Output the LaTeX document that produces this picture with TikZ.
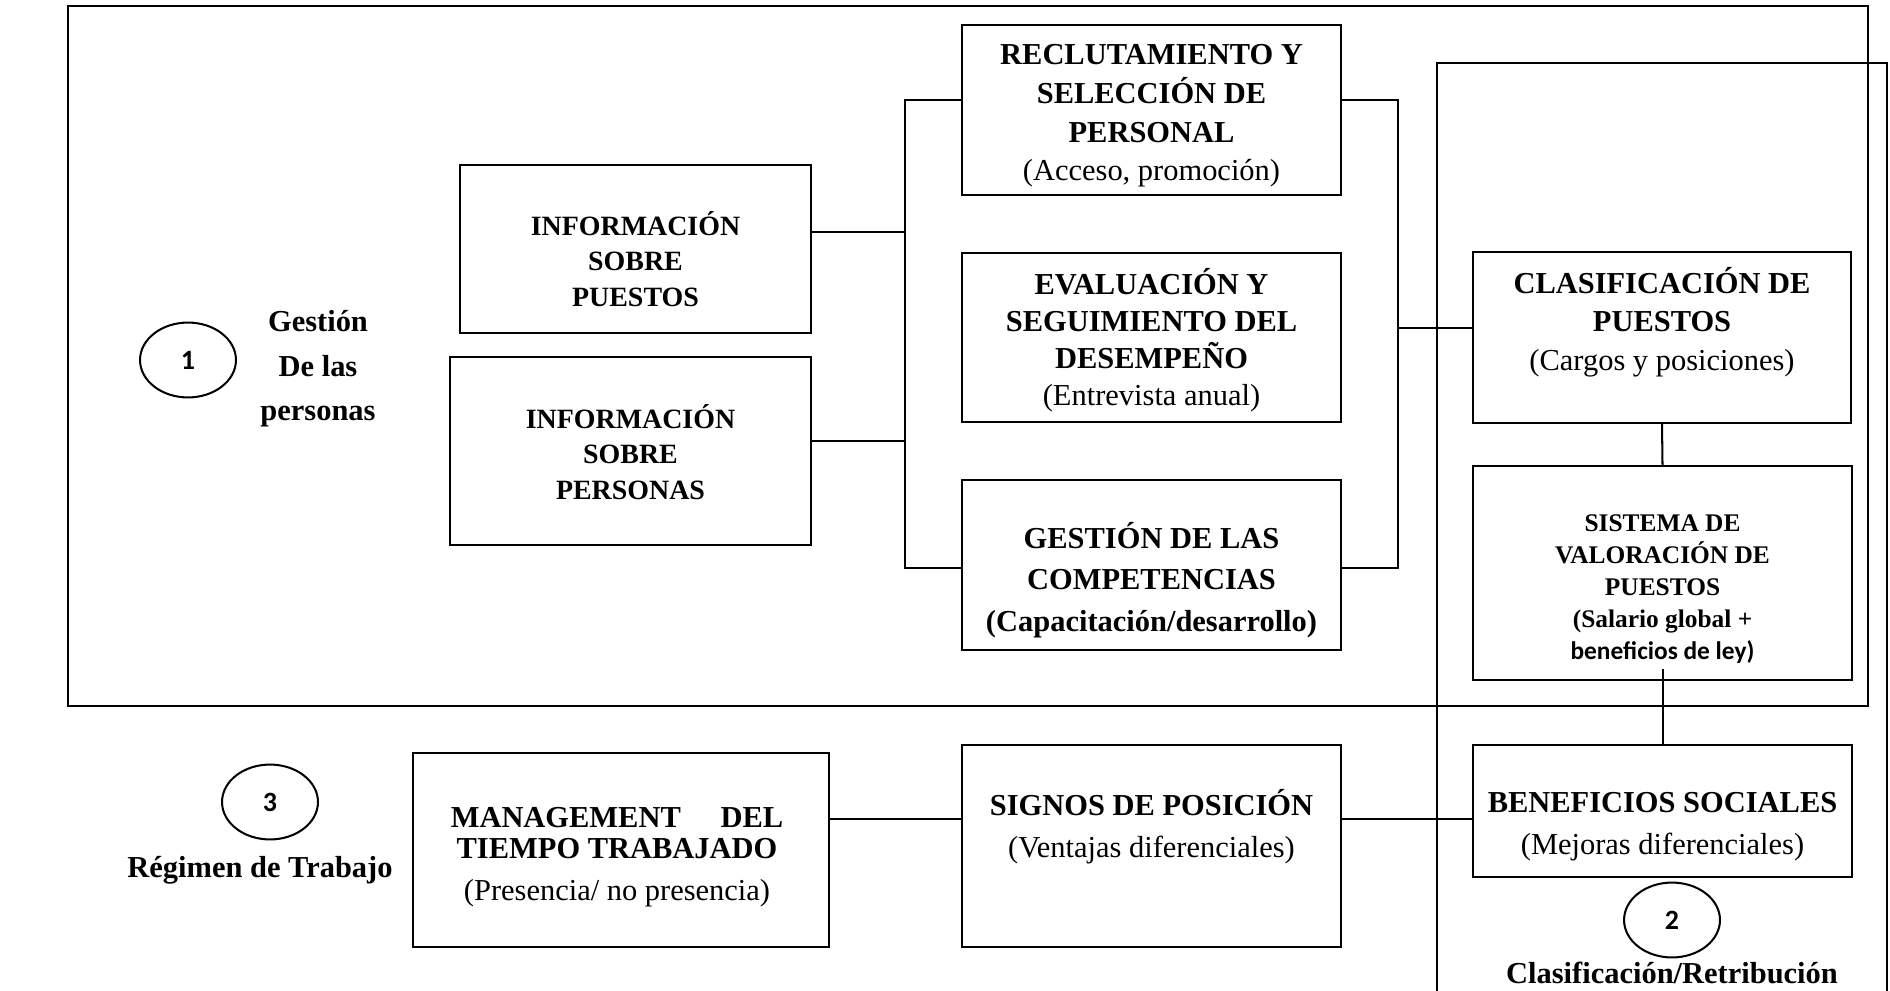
\documentclass[tikz,border=0pt]{standalone}
\usepackage{fontspec}
\setmainfont{Liberation Serif}
\newfontfamily\calibri{Carlito}
\usetikzlibrary{shapes.geometric}
\tikzset{ caja/.style 2 args = { rectangle % recuadro
        , draw
        , line width = .8pt
        , inner sep = 0pt
        , minimum width = #1*0.394pt
        , minimum height = #2*0.394pt
        }
        , txt/.style = { align = center % texto
        , inner sep = 0pt
        , font = \fontsize{12}{13.6}\selectfont\bfseries
        }
        , num/.style = { ellipse % circulo numerado
        , draw
        , line width = .8pt
        , minimum width = 37.8pt
        , minimum height = 29.5pt
        , font = \calibri\fontsize{11}{13}\selectfont\bfseries
        }
        }

\begin{document}
\begin{tikzpicture}[x=0.394pt, y=-0.394pt, line width=.8pt]
        \useasboundingbox (0,0) rectangle (1890,991);
        % marcos
        \draw [line width=1pt] (68,6) rectangle (1868,706);
        \draw (1437,991) -- (1437,63) -- (1887,63) -- (1887,991);

        \node [num] (n1) at (188,360) {1};
        \node [txt, font=\fontsize{12}{17.5}\selectfont\bfseries] (gestion) at (318,369) {Gestión\\De las\\personas};
        \node [num] (n3) at (270,802) {3};
        \node [txt] (regimen) at (260,870) {Régimen de Trabajo};
        \node [num] (n2) at (1672,920) {2};
        \node [txt] (clasret) at (1672,973) {Clasificación/Retribución};

        \node [caja={351}{168}] (infoP) at (635.5,249) {};
        \node [txt, font=\fontsize{11}{14}\selectfont\bfseries] (infoP-t) at (635.5,259) {INFORMACIÓN\\SOBRE\\PUESTOS};
        \node [caja={361}{188}] (infoE) at (630.5,451) {};
        \node [txt, font=\fontsize{11}{14}\selectfont\bfseries] (infoE-t) at (630.5,452) {INFORMACIÓN\\SOBRE\\PERSONAS};

        \node [caja={379}{170}] (reclut) at (1151.5,110) {};
        \node [txt, font=\fontsize{12}{15.2}\selectfont\bfseries] (reclut-t) at (1151.5,116) {RECLUTAMIENTO Y\\SELECCIÓN DE\\PERSONAL\\{\mdseries (Acceso, promoción)}};
        \node [caja={379}{169}] (evalua) at (1151.5,337.5) {};
        \node [txt, font=\fontsize{12}{14.6}\selectfont\bfseries] (evalua-t) at (1151.5,340) {EVALUACIÓN Y\\SEGUIMIENTO DEL\\DESEMPEÑO\\{\mdseries (Entrevista anual)}};
        \node [caja={379}{170}] (compet) at (1151.5,565) {};
        \node [txt, font=\fontsize{12}{16.3}\selectfont\bfseries] (compet-t) at (1151.5,580) {GESTIÓN DE LAS\\COMPETENCIAS\\(Capacitación/desarrollo)};

        \node [caja={378}{171}] (clasif) at (1662,337.5) {};
        \node [txt, font=\fontsize{12}{15.2}\selectfont\bfseries] (clasif-t) at (1662,322) {CLASIFICACIÓN DE\\PUESTOS\\{\mdseries (Cargos y posiciones)}};
        \node [caja={379}{214}] (sistema) at (1662.5,573) {};
        \node [txt, font=\fontsize{10}{12.6}\selectfont\bfseries] (sistema-t) at (1662.5,589) {SISTEMA DE\\VALORACIÓN DE\\PUESTOS\\{\rmfamily (Salario global +}\\{\calibri beneficios de ley)}};
        \node [caja={379}{132}] (benef) at (1662.5,811) {};
        \node [txt, font=\fontsize{12}{16.6}\selectfont\bfseries] (benef-t) at (1662.5,827) {BENEFICIOS SOCIALES\\{\mdseries (Mejoras diferenciales)}};

        \node [caja={416}{194}] (manage) at (621,850) {};
        \node [txt, font=\fontsize{12}{12.4}\selectfont\bfseries] (manage-t) at (617,857) {\makebox[131pt]{MANAGEMENT\hfill DEL}\\TIEMPO TRABAJADO\\[4pt]{\mdseries (Presencia/ no presencia)}};
        \node [caja={379}{202}] (signos) at (1151.5,846) {};
        \node [txt, font=\fontsize{12}{16.6}\selectfont\bfseries] (signos-t) at (1151.5,827) {SIGNOS DE POSICIÓN\\{\mdseries (Ventajas diferenciales)}};

        % puntos de las llaves
        \coordinate (izqA) at (905,100);
        \coordinate (izqB) at (905,568);
        \coordinate (izqP) at (905,232);
        \coordinate (izqE) at (905,441);
        \coordinate (derA) at (1398,100);
        \coordinate (derB) at (1398,568);
        \coordinate (derC) at (1398,328);
        \coordinate (fila) at (1000,819);

        \draw (reclut.west |- izqA) -- (izqA) -- (izqB) -- (compet.west |- izqB);
        \draw (infoP.east |- izqP) -- (izqP);
        \draw (infoE.east |- izqE) -- (izqE);
        \draw (reclut.east |- derA) -- (derA) -- (derB) -- (compet.east |- derB);
        \draw (derC) -- (clasif.west |- derC);
        \draw (clasif.south) -- (sistema.north);
        \draw ([yshift=4.7pt]sistema.south) -- (benef.north);
        \draw (manage.east |- fila) -- (signos.west |- fila);
        \draw (signos.east |- fila) -- (benef.west |- fila);
\end{tikzpicture}
\end{document}
